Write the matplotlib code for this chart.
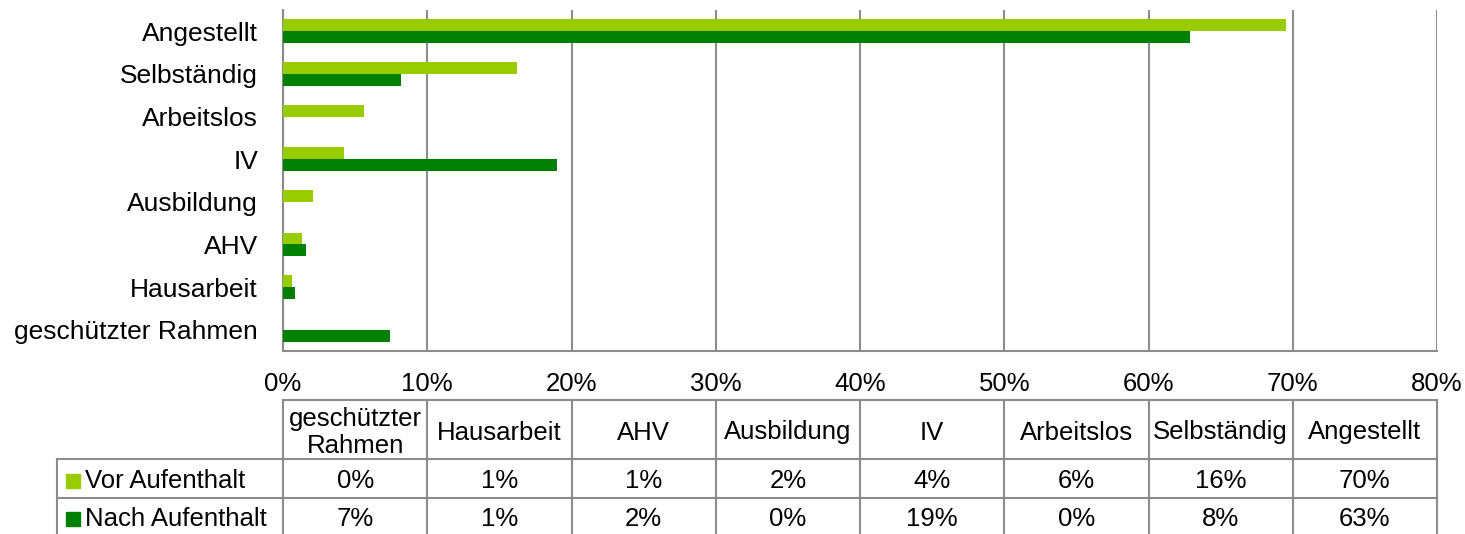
import numpy as np
import matplotlib.pyplot as plt

plt.rcParams['font.family'] = ['Liberation Sans', 'DejaVu Sans']

# Daten (von unten nach oben)
kategorien = ['geschützter Rahmen', 'Hausarbeit', 'AHV', 'Ausbildung',
              'IV', 'Arbeitslos', 'Selbständig', 'Angestellt']
kopf = ['geschützter\nRahmen', 'Hausarbeit', 'AHV', 'Ausbildung',
        'IV', 'Arbeitslos', 'Selbständig', 'Angestellt']
vor = [0.0, 0.6, 1.3, 2.1, 4.2, 5.6, 16.2, 69.5]
nach = [7.4, 0.8, 1.6, 0.0, 19.0, 0.0, 8.2, 62.9]
serien = ['Vor Aufenthalt', 'Nach Aufenthalt']
farben = ['#99CC00', '#008000']
ticks = [0, 10, 20, 30, 40, 50, 60, 70, 80]

W, H = 1465, 534
grau = '#8c8c8c'
fs = 18.5

fig = plt.figure(figsize=(W / 100, H / 100), dpi=100)

def box(x0, y0, x1, y1):
    return [x0 / W, 1 - y1 / H, (x1 - x0) / W, (y1 - y0) / H]

# Balkendiagramm
ax = fig.add_axes(box(283, 10, 1437, 351))
y = np.arange(len(kategorien))
h = 0.28
ax.barh(y + h / 2, vor, height=h, color=farben[0], zorder=3)
ax.barh(y - h / 2, nach, height=h, color=farben[1], zorder=3)
ax.set_xlim(0, 80)
ax.set_ylim(-0.5, 7.5)
ax.set_yticks(y)
ax.set_yticklabels(kategorien, fontsize=fs + 0.5)
ax.set_xticks(ticks)
ax.set_xticklabels([f'{t}%' for t in ticks], fontsize=fs)
ax.tick_params(length=0, pad=18, axis='y')
ax.tick_params(length=0, pad=15, axis='x')
ax.grid(axis='x', color=grau, lw=1.5, zorder=0)
for s in ['top', 'right']:
    ax.spines[s].set_visible(False)
for s in ['left', 'bottom']:
    ax.spines[s].set_color(grau)
    ax.spines[s].set_linewidth(1.5)

# Datentabelle
tax = fig.add_axes(box(283, 400, 1437, 534))
tax.set_xlim(0, len(kategorien))
tax.set_ylim(134, 0)
tax.axis('off')
zeilen = [0, 59, 98, 137]
links = -226 / 144.25
kw = dict(color=grau, lw=1.5, clip_on=False)
# horizontale Linien
tax.plot([0, 8], [zeilen[0]] * 2, **kw)
for r in zeilen[1:3]:
    tax.plot([links, 8], [r, r], **kw)
# vertikale Linien
for c in range(len(kategorien) + 1):
    tax.plot([c, c], [zeilen[0], zeilen[3]], **kw)
tax.plot([links, links], [zeilen[1], zeilen[3]], **kw)

for i, k in enumerate(kopf):
    tax.text(i + 0.5, (zeilen[0] + zeilen[1]) / 2 + 3, k, ha='center', va='center',
             fontsize=fs, linespacing=1.15)
for j, (name, werte) in enumerate(zip(serien, [vor, nach])):
    yc = (zeilen[j + 1] + zeilen[j + 2]) / 2 + (2 if j == 0 else 1)
    tax.text(links + 28 / 144.25, yc, name, ha='left', va='center', fontsize=fs,
             clip_on=False)
    tax.add_patch(plt.Rectangle((links + 9 / 144.25, yc - 7), 14 / 144.25, 14,
                                color=farben[j], clip_on=False))
    for i, v in enumerate(werte):
        tax.text(i + 0.5, yc, f'{v:.0f}%', ha='center', va='center', fontsize=fs)

fig.savefig('out.png', dpi=100)
